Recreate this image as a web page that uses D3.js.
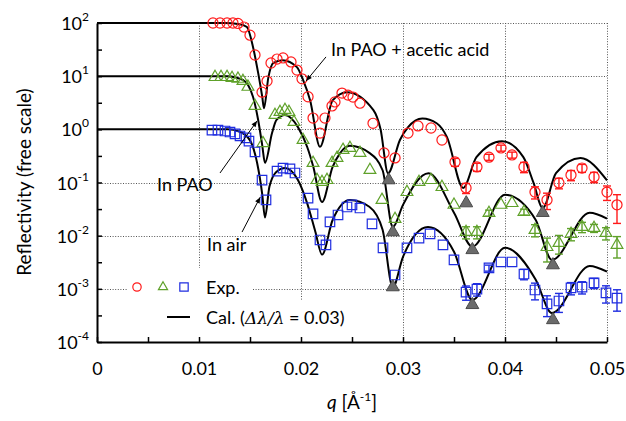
<!DOCTYPE html>
<html lang="en">
<head>
<meta charset="UTF-8">
<title>Reflectivity</title>
<script src="https://cdnjs.cloudflare.com/ajax/libs/d3/7.8.5/d3.min.js"></script>
<style>
  body { margin: 0; background: #fff; }
  text { font-family: Lato, "Liberation Sans", sans-serif; fill: #000; }
</style>
</head>
<body>
<div id="graph"></div>
<script>
// measured data: q in 1/A, reflectivity (free scale)
// In PAO + acetic acid (red circles)
let qAcetic = [0.01137,0.01206,0.01275,0.01333,0.01382,0.01441,0.01500,0.01549,0.01618,0.01667,0.01706,0.01765,0.01824,0.01902,0.01961,0.02010,0.02069,0.02118,0.02186,0.02235,0.02304,0.02333,0.02402,0.02461,0.02510,0.02578,0.02706,0.02814,0.02922,0.03049,0.03147,0.03275,0.03382,0.03510,0.03618,0.03725,0.03843,0.03961,0.04069,0.04186,0.04294,0.04412,0.04529,0.04647,0.04755,0.04873,0.05000,0.05098];
let rAcetic = [100,100,100,100,98,84,59,25,5.0,8.1,17.7,21,22,18.5,13,8.9,4.1,1.63,0.85,1.63,2.75,3.27,4.8,4.4,4.05,3.1,1.3,0.36,0.29,0.85,1.16,1.06,0.63,0.243,0.079,0.196,0.30,0.446,0.33,0.196,0.066,0.047,0.098,0.138,0.187,0.127,0.066,0.038];
let eAcetic = [0,0,0,0,0,0,0,0,0,0,0,0,0,0,0,0,0,0,0,0,0,0,0,0,0,0,0,0,0,0,0,0,0,0.041,0.017,0.034,0.039,0.058,0.043,0.043,0.017,0.016,0.022,0.030,0.032,0.028,0.020,0.021];

// In PAO (green triangles)
let qPAO = [0.01157,0.01216,0.01275,0.01324,0.01382,0.01431,0.01480,0.01549,0.01627,0.01745,0.01794,0.01843,0.01882,0.01931,0.02020,0.02118,0.02157,0.02206,0.02255,0.02304,0.02353,0.02412,0.02480,0.02578,0.02676,0.02794,0.02922,0.03039,0.03157,0.03275,0.03382,0.03500,0.03618,0.03725,0.03843,0.03961,0.04069,0.04186,0.04294,0.04412,0.04529,0.04647,0.04755,0.04873,0.04990,0.05098];
let rPAO = [9.6,9.6,9.6,9.2,8.9,8.1,6.3,2.75,0.55,1.86,2.12,2.31,2.12,1.37,0.63,0.233,0.111,0.102,0.111,0.233,0.29,0.41,0.446,0.36,0.172,0.047,0.0206,0.066,0.102,0.111,0.082,0.038,0.0117,0.0117,0.0267,0.038,0.041,0.0279,0.0128,0.0061,0.0073,0.0108,0.0146,0.0139,0.0112,0.0067];
let ePAO = [0,0,0,0,0,0,0,0,0,0,0,0,0,0,0,0,0,0,0,0,0,0,0,0,0,0,0,0,0,0,0,0,0.003,0.003,0.0035,0,0,0.0036,0.0033,0.0029,0.0028,0.0028,0.0032,0.0024,0.0029,0.0029];

// In air (blue squares)
let qAir = [0.01127,0.01186,0.01255,0.01304,0.01353,0.01402,0.01461,0.01490,0.01549,0.01618,0.01657,0.01765,0.01824,0.01892,0.01941,0.02069,0.02118,0.02186,0.02245,0.02284,0.02363,0.02451,0.02500,0.02578,0.02696,0.02804,0.02922,0.03039,0.03157,0.03265,0.03392,0.03500,0.03618,0.03725,0.03843,0.03961,0.04069,0.04186,0.04294,0.04412,0.04529,0.04647,0.04755,0.04873,0.04990,0.05098];
let rAir = [0.97,0.97,0.93,0.89,0.82,0.75,0.69,0.60,0.375,0.111,0.047,0.164,0.187,0.18,0.151,0.051,0.0256,0.0083,0.0067,0.0181,0.0245,0.0346,0.038,0.0331,0.0166,0.0059,0.00182,0.0059,0.0090,0.0108,0.0067,0.0035,0.00087,0.00099,0.00247,0.0032,0.0032,0.0019,0.00095,0.00052,0.00059,0.00104,0.00108,0.00129,0.00084,0.00067];
let eAir = [0,0,0,0,0,0,0,0,0,0,0,0,0,0,0,0,0,0,0,0,0,0,0,0,0,0,0,0,0,0,0,0,0.00026,0.00026,0.00032,0,0,0.00042,0.00033,0.00022,0.00023,0.00027,0.00028,0.00028,0.0003,0.00029];

// calculated curves (dlambda/lambda = 0.03)
let calQAcetic = [0,0.0125,0.0140,0.0147,0.0153,0.0158,0.0162,0.01637,0.0168,0.0173,0.0182,0.0196,0.0202,0.0209,0.02186,0.0231,0.0245,0.0271,0.0278,0.02853,0.0297,0.0305,0.0319,0.0333,0.0343,0.0359,0.0372,0.0397,0.0418,0.0428,0.0437,0.0450,0.0474,0.0500];
let calRAcetic = [100,100,95,84,35,11.5,4.1,2.5,9.5,17.8,20,14.8,8.5,3.5,0.47,3.5,5.0,2.3,1.0,0.15,0.63,1.1,1.6,1.3,0.72,0.079,0.30,0.60,0.30,0.098,0.033,0.15,0.29,0.11];
let calQPAO = [0,0.0128,0.0143,0.0153,0.0158,0.0162,0.01647,0.01716,0.0176,0.01843,0.0197,0.0206,0.0212,0.02206,0.0231,0.0238,0.0248,0.0267,0.0280,0.0290,0.0300,0.0325,0.0350,0.0368,0.0400,0.0430,0.0446,0.0483,0.0500];
let calRPAO = [10,10,8.5,4.05,1.5,0.5,0.234,0.85,1.5,1.86,1.1,0.47,0.2,0.043,0.196,0.35,0.49,0.36,0.17,0.0145,0.038,0.15,0.027,0.0062,0.059,0.02,0.0035,0.027,0.021];
let calQAir = [0,0.0128,0.0140,0.0150,0.0157,0.0162,0.01647,0.0169,0.0176,0.01843,0.0197,0.0206,0.0214,0.02206,0.0231,0.0248,0.0267,0.0280,0.0290,0.0300,0.03245,0.0350,0.0368,0.0400,0.0430,0.0446,0.0483,0.0500];
let calRAir = [1,1,0.9,0.62,0.233,0.06,0.022,0.083,0.16,0.187,0.111,0.041,0.012,0.0044,0.0197,0.047,0.035,0.0129,0.00107,0.004,0.0145,0.005,0.00062,0.0059,0.0015,0.00035,0.0027,0.0021];

// grey markers under the fringe minima
let dipQ = [0.0286,0.0362,0.0437,0.0290,0.0368,0.0447,0.0290,0.0368,0.0447];
let dipR = [0.111,0.041,0.027,0.0117,0.0054,0.0028,0.00108,0.0005,0.00026];

let xTicks = [0,0.005,0.01,0.015,0.02,0.025,0.03,0.035,0.04,0.045,0.05];
let xLabels = ['0','','0.01','','0.02','','0.03','','0.04','','0.05'];
let yExponents = [2,1,0,-1,-2,-3,-4];

// settings
let width = 626;
let height = 421;
let red = '#ff1a1a', green = '#5fa12a', blue = '#1f2de0';

let x = d3.scaleLinear().domain([0, 0.05]).range([97, 607]);
let y = d3.scaleLog().domain([1e-4, 1e2]).range([342, 23]);

let svg = d3.select('#graph').append('svg')
    .attr('width', width)
    .attr('height', height);

// dotted grid
let grid = svg.append('g')
    .attr('stroke', '#555')
    .attr('stroke-width', 1)
    .attr('stroke-dasharray', '1,1.6');
grid.selectAll('line.h')
    .data(yExponents.filter(e => e > -4))
    .enter().append('line')
    .attr('x1', x(0)).attr('x2', x(0.05))
    .attr('y1', e => Math.round(y(Math.pow(10, e))) + 0.5)
    .attr('y2', e => Math.round(y(Math.pow(10, e))) + 0.5);
grid.selectAll('line.v')
    .data([0.01, 0.02, 0.03, 0.04, 0.05])
    .enter().append('line')
    .attr('x1', d => Math.round(x(d)) + 0.5).attr('x2', d => Math.round(x(d)) + 0.5)
    .attr('y1', y(1e2)).attr('y2', y(1e-4));

// legend backgrounds hide the grid there
svg.append('rect').attr('x', 128).attr('y', 268).attr('width', 124).attr('height', 32).attr('fill', '#fff');
svg.append('rect').attr('x', 128).attr('y', 300).attr('width', 240).attr('height', 40).attr('fill', '#fff');

// calculated curves
let line = d3.line()
    .x(d => x(d[0]))
    .y(d => y(d[1]))
    .curve(d3.curveMonotoneX);

[[calQAcetic, calRAcetic], [calQPAO, calRPAO], [calQAir, calRAir]].forEach(function(c) {
    svg.append('path')
        .datum(d3.zip(c[0], c[1]))
        .attr('d', line)
        .attr('fill', 'none')
        .attr('stroke', '#000')
        .attr('stroke-width', 2);
});

// experimental points
let series = [
    {q: qAcetic, r: rAcetic, e: eAcetic, color: red, shape: d3.symbolCircle, size: 80},
    {q: qPAO, r: rPAO, e: ePAO, color: green, shape: d3.symbolTriangle, size: 60},
    {q: qAir, r: rAir, e: eAir, color: blue, shape: d3.symbolSquare, size: 90}
];

series.forEach(function(s) {
    let pts = s.q.map((q, i) => ({q: q, r: s.r[i], e: s.e[i]}));
    let g = svg.append('g');
    let bars = g.selectAll('g.err')
        .data(pts.filter(d => d.e > 0))
        .enter().append('g')
        .attr('stroke', s.color)
        .attr('stroke-width', 1.4);
    bars.append('line')
        .attr('x1', d => x(d.q)).attr('x2', d => x(d.q))
        .attr('y1', d => y(d.r + d.e)).attr('y2', d => y(Math.max(d.r - d.e, 1e-5)));
    bars.append('line')
        .attr('x1', d => x(d.q) - 4).attr('x2', d => x(d.q) + 4)
        .attr('y1', d => y(d.r + d.e)).attr('y2', d => y(d.r + d.e));
    bars.append('line')
        .attr('x1', d => x(d.q) - 4).attr('x2', d => x(d.q) + 4)
        .attr('y1', d => y(d.r - d.e)).attr('y2', d => y(d.r - d.e));
    g.selectAll('path')
        .data(pts)
        .enter().append('path')
        .attr('d', d3.symbol().type(s.shape).size(s.size))
        .attr('transform', d => 'translate(' + x(d.q) + ',' + y(d.r) + ')')
        .attr('fill', 'none')
        .attr('stroke', s.color)
        .attr('stroke-width', 1.2);
});

// grey triangles at the minima
svg.selectAll('path.dip')
    .data(d3.zip(dipQ, dipR))
    .enter().append('path')
    .attr('d', d3.symbol().type(d3.symbolTriangle).size(72))
    .attr('transform', d => 'translate(' + x(d[0]) + ',' + y(d[1]) + ')')
    .attr('fill', '#6b6b6b')
    .attr('stroke', '#4a4a4a')
    .attr('stroke-width', 1);

// axes
let xAxis = d3.axisBottom(x)
    .tickValues(xTicks)
    .tickSize(-5)
    .tickSizeOuter(0)
    .tickPadding(20)
    .tickFormat((d, i) => xLabels[i]);
let gx = svg.append('g').attr('transform', 'translate(0,342)').call(xAxis);
gx.select('.domain').attr('stroke-width', 2);
gx.selectAll('.tick line').attr('stroke-width', 1.5);
gx.selectAll('text').attr('font-size', 18).attr('font-family', 'Lato');

let yTickVals = [];
yExponents.forEach(e => { yTickVals.push(Math.pow(10, e)); if (e < 2) yTickVals.push(Math.pow(10, e + 0.5)); });
let yAxis = d3.axisLeft(y)
    .tickValues(yTickVals)
    .tickSize(-5)
    .tickSizeOuter(0)
    .tickFormat('');
let gy = svg.append('g').attr('transform', 'translate(97,0)').call(yAxis);
gy.select('.domain').attr('stroke-width', 2);
gy.selectAll('.tick line').attr('stroke-width', 1.5);

let yl = svg.selectAll('text.ylab')
    .data(yExponents)
    .enter().append('text')
    .attr('x', 89)
    .attr('y', e => y(Math.pow(10, e)) + 7)
    .attr('text-anchor', 'end')
    .attr('font-size', 18);
yl.append('tspan').text('10');
yl.append('tspan').attr('font-size', 12).attr('dy', -9).text(e => e);

// axis titles
let xt = svg.append('text')
    .attr('x', 352).attr('y', 409)
    .attr('text-anchor', 'middle')
    .attr('font-size', 19);
xt.append('tspan').attr('font-style', 'italic').text('q');
xt.append('tspan').text(' [\u00c5');
xt.append('tspan').attr('font-size', 12).attr('dy', -8).text('-1');
xt.append('tspan').attr('dy', 8).text(']');

svg.append('text')
    .attr('transform', 'translate(31,182) rotate(-90)')
    .attr('text-anchor', 'middle')
    .attr('font-size', 19)
    .text('Reflectivity (free scale)');

// annotations with arrows
let notes = [
    {text: 'In PAO + acetic acid', tx: 331, ty: 56, from: [0.02245, 23], to: [0.0205, 8.1]},
    {text: 'In PAO', tx: 157, ty: 191, from: [0.01206, 0.151], to: [0.01569, 1.44]},
    {text: 'In air', tx: 207, ty: 251, from: [0.01422, 0.0117], to: [0.0160, 0.053]}
];
notes.forEach(function(n) {
    svg.append('text').attr('x', n.tx).attr('y', n.ty).attr('font-size', 18).text(n.text);
    let x1 = x(n.from[0]), y1 = y(n.from[1]), x2 = x(n.to[0]), y2 = y(n.to[1]);
    svg.append('line')
        .attr('x1', x1).attr('y1', y1).attr('x2', x2).attr('y2', y2)
        .attr('stroke', '#000').attr('stroke-width', 1);
    let a = Math.atan2(y2 - y1, x2 - x1);
    let len = 6, w = 2.5;
    let bx = x2 - len * Math.cos(a), by = y2 - len * Math.sin(a);
    svg.append('path')
        .attr('d', 'M' + x2 + ',' + y2 +
            'L' + (bx - w * Math.sin(a)) + ',' + (by + w * Math.cos(a)) +
            'L' + (bx + w * Math.sin(a)) + ',' + (by - w * Math.cos(a)) + 'Z')
        .attr('fill', '#000');
});

// legend
let legSym = [[137, d3.symbolCircle, red, 55], [163, d3.symbolTriangle, green, 36], [184, d3.symbolSquare, blue, 70]];
legSym.forEach(function(l) {
    svg.append('path')
        .attr('d', d3.symbol().type(l[1]).size(l[3]))
        .attr('transform', 'translate(' + l[0] + ',287)')
        .attr('fill', 'none').attr('stroke', l[2]).attr('stroke-width', 1.2);
});
svg.append('text').attr('x', 206).attr('y', 294).attr('font-size', 18).text('Exp.');
svg.append('line').attr('x1', 167).attr('x2', 190).attr('y1', 317).attr('y2', 317)
    .attr('stroke', '#000').attr('stroke-width', 2);
let cal = svg.append('text').attr('x', 206).attr('y', 324).attr('font-size', 18);
cal.append('tspan').text('Cal. (');
cal.append('tspan').attr('font-style', 'italic').attr('font-family', '"DejaVu Serif", serif')
    .attr('font-size', 17).text('\u0394\u03bb/\u03bb');
cal.append('tspan').text(' = 0.03)');
</script>
</body>
</html>
